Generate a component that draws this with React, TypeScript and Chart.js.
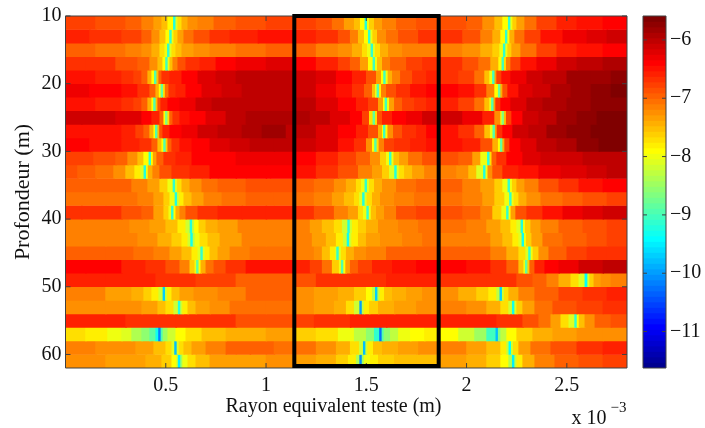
import React, { useEffect, useRef } from "react";
import { Chart, registerables } from "chart.js";

Chart.register(...registerables);

const FONT = '"Liberation Serif", "Times New Roman", serif';
const INK = "#111111";
const FRAME = "#404040";

// Depth (m) at the centre of each 2 m row
const depths = [11, 13, 15, 17, 19, 21, 23, 25, 27, 29, 31, 33, 35, 37, 39, 41, 43, 45, 47, 49, 51, 53, 55, 57, 59, 61];
const xTickValues = [0.5, 1, 1.5, 2, 2.5];
const yTickValues = [10, 20, 30, 40, 50, 60];
const barTickValues = [-6, -7, -8, -9, -10, -11];
const cLimits = [-11.625, -5.59];
const boxX = [1.5, 1.861, 1.861, 1.141, 1.141, 1.5];
const boxY = [10, 10, 61.7, 61.7, 10, 10];

// Flat pairs per depth row: radius where the step ends (x 10^-3 m), log value of the step
const d11 = [.15,-6.8,.3,-6.85,.38,-6.95,.44,-7.1,.48,-7.3,.51,-7.55,.538,-7.9,.55,-9.2,.56,-8.1,.58,-7.75,.61,-7.45,.66,-7.25,.74,-7.1,.85,-6.95,1,-6.85,1.14,-6.8,1.25,-6.75,1.33,-6.85,1.39,-7.05,1.44,-7.3,1.47,-7.5,1.493,-7.9,1.505,-9.2,1.515,-8,1.54,-7.6,1.58,-7.3,1.65,-7.1,1.75,-6.95,1.86,-6.85,2,-6.85,2.08,-6.95,2.14,-7.2,2.18,-7.5,2.208,-7.9,2.22,-9.1,2.23,-8,2.25,-7.65,2.29,-7.35,2.35,-7.05,2.45,-6.8,2.55,-6.6,2.68,-6.45,2.8,-6.35];
const d13 = [.12,-6.6,.28,-6.65,.38,-6.8,.43,-6.95,.47,-7.2,.5,-7.55,.519,-7.9,.531,-9.1,.54,-8,.56,-7.6,.59,-7.3,.64,-7.05,.72,-6.85,.82,-6.7,.96,-6.55,1.14,-6.45,1.25,-6.55,1.36,-6.7,1.42,-6.9,1.46,-7.15,1.49,-7.5,1.51,-7.9,1.522,-9.1,1.532,-8,1.555,-7.6,1.6,-7.25,1.66,-7.05,1.76,-6.85,1.86,-6.7,1.98,-6.72,2.07,-6.85,2.13,-7.1,2.17,-7.45,2.193,-7.9,2.205,-9.1,2.215,-7.9,2.24,-7.4,2.29,-7.05,2.37,-6.75,2.48,-6.45,2.6,-6.3,2.7,-6.2,2.8,-6.12];
const d15 = [.15,-7,.3,-7.05,.38,-7.15,.43,-7.25,.47,-7.45,.495,-7.7,.508,-8,.52,-9.1,.53,-8.1,.55,-7.75,.58,-7.5,.64,-7.3,.72,-7.2,.85,-7.1,1,-7.05,1.14,-7,1.25,-7,1.36,-7.1,1.43,-7.25,1.48,-7.45,1.505,-7.7,1.523,-8,1.535,-9.1,1.545,-8.1,1.57,-7.7,1.61,-7.45,1.68,-7.25,1.77,-7.15,1.86,-7.1,1.98,-7.1,2.07,-7.2,2.13,-7.4,2.165,-7.65,2.183,-8,2.195,-9.1,2.205,-8,2.225,-7.6,2.27,-7.3,2.35,-7.05,2.45,-6.8,2.55,-6.6,2.68,-6.48,2.8,-6.4];
const d17 = [.1,-6.65,.25,-6.7,.36,-6.85,.42,-7,.46,-7.2,.485,-7.5,.499,-7.9,.511,-9,.52,-8,.535,-7.5,.56,-7.1,.6,-6.85,.67,-6.7,.75,-6.55,.85,-6.4,1,-6.3,1.14,-6.25,1.25,-6.4,1.36,-6.55,1.42,-6.75,1.47,-7,1.51,-7.35,1.533,-7.9,1.545,-9,1.555,-7.95,1.58,-7.5,1.62,-7.15,1.7,-6.95,1.78,-6.8,1.86,-6.65,1.98,-6.7,2.06,-6.85,2.12,-7.05,2.16,-7.4,2.176,-7.9,2.188,-9,2.198,-7.7,2.22,-7.1,2.27,-6.75,2.35,-6.5,2.45,-6.3,2.55,-6.15,2.68,-6.02,2.8,-5.95];
const d19 = [.15,-6.5,.28,-6.55,.34,-6.65,.38,-6.8,.41,-7,.43,-7.4,.443,-7.9,.455,-8.9,.465,-7.5,.48,-6.95,.52,-6.7,.58,-6.55,.66,-6.4,.75,-6.25,.85,-6.12,1,-6.05,1.14,-6.05,1.25,-6.1,1.35,-6.25,1.43,-6.4,1.5,-6.6,1.55,-6.85,1.575,-7.3,1.586,-7.9,1.598,-9,1.608,-8,1.63,-7.45,1.67,-7.1,1.73,-6.85,1.8,-6.7,1.86,-6.6,1.96,-6.65,2.04,-6.8,2.09,-7.05,2.115,-7.5,2.129,-8,2.141,-9,2.15,-7.3,2.175,-6.75,2.22,-6.5,2.3,-6.3,2.38,-6.12,2.5,-5.98,2.62,-5.85,2.72,-5.78,2.8,-5.75];
const d21 = [.12,-6.3,.28,-6.35,.36,-6.45,.42,-6.65,.45,-6.95,.467,-7.4,.476,-7.9,.488,-8.8,.497,-7.7,.515,-7.05,.55,-6.7,.6,-6.55,.68,-6.42,.78,-6.25,.88,-6.1,1,-6.05,1.14,-6,1.25,-6.15,1.35,-6.3,1.43,-6.45,1.49,-6.65,1.53,-7,1.545,-7.5,1.553,-8,1.565,-8.9,1.575,-7.8,1.6,-7.15,1.65,-6.85,1.72,-6.65,1.8,-6.5,1.86,-6.35,1.96,-6.4,2.04,-6.5,2.1,-6.7,2.14,-7.1,2.158,-7.9,2.17,-8.8,2.18,-7.4,2.205,-6.85,2.26,-6.45,2.33,-6.25,2.42,-6.1,2.52,-5.95,2.62,-5.82,2.72,-5.72,2.8,-5.68];
const d23 = [.15,-6.45,.28,-6.55,.34,-6.65,.38,-6.8,.41,-7,.43,-7.4,.439,-7.9,.451,-8.9,.46,-7.5,.475,-6.9,.51,-6.6,.57,-6.42,.65,-6.3,.73,-6.15,.83,-6.02,.96,-5.98,1.14,-5.98,1.25,-6.05,1.36,-6.2,1.45,-6.35,1.51,-6.55,1.56,-6.8,1.585,-7.3,1.593,-7.9,1.605,-9,1.615,-8,1.64,-7.35,1.68,-7,1.74,-6.8,1.8,-6.65,1.86,-6.55,1.96,-6.6,2.04,-6.75,2.09,-7.05,2.115,-7.5,2.124,-8,2.136,-8.9,2.145,-7.3,2.17,-6.7,2.22,-6.4,2.3,-6.2,2.38,-6.05,2.5,-5.92,2.62,-5.82,2.72,-5.74,2.8,-5.72];
const d25 = [.08,-6.1,.25,-6.12,.38,-6.2,.43,-6.35,.47,-6.6,.49,-7,.498,-7.9,.51,-8.7,.519,-7.7,.535,-7,.57,-6.65,.62,-6.5,.7,-6.35,.8,-6.2,.9,-6.02,1,-5.92,1.14,-5.9,1.22,-5.95,1.32,-6.05,1.42,-6.2,1.48,-6.4,1.515,-6.8,1.533,-7.7,1.545,-8.8,1.555,-7.7,1.58,-6.9,1.63,-6.55,1.7,-6.4,1.78,-6.32,1.86,-6.15,1.98,-6.15,2.08,-6.28,2.14,-6.55,2.17,-7.2,2.176,-7.9,2.188,-8.7,2.198,-7.5,2.225,-6.75,2.28,-6.35,2.36,-6.12,2.45,-5.98,2.55,-5.85,2.65,-5.72,2.8,-5.62];
const d27 = [.15,-6.45,.28,-6.5,.35,-6.6,.39,-6.75,.42,-7,.44,-7.45,.448,-7.9,.46,-8.9,.469,-7.5,.485,-6.9,.52,-6.6,.58,-6.42,.66,-6.28,.76,-6.1,.88,-6,.98,-5.92,1.1,-5.85,1.14,-5.98,1.25,-6.02,1.36,-6.2,1.45,-6.35,1.51,-6.55,1.56,-6.85,1.58,-7.4,1.585,-7.9,1.597,-9,1.607,-7.9,1.635,-7.25,1.68,-6.9,1.75,-6.7,1.8,-6.55,1.86,-6.42,1.96,-6.5,2.04,-6.65,2.09,-6.95,2.118,-7.5,2.131,-8,2.143,-8.9,2.152,-7.3,2.18,-6.65,2.23,-6.35,2.31,-6.12,2.4,-5.98,2.5,-5.85,2.62,-5.72,2.8,-5.65];
const d29 = [.12,-6.4,.28,-6.45,.37,-6.55,.43,-6.7,.46,-7,.48,-7.5,.489,-7.9,.501,-8.9,.51,-7.6,.53,-7,.57,-6.68,.63,-6.52,.72,-6.4,.82,-6.22,.92,-6.08,1.04,-6,1.14,-5.98,1.25,-6.1,1.36,-6.25,1.44,-6.45,1.5,-6.7,1.53,-7.2,1.541,-7.9,1.553,-8.9,1.563,-7.7,1.59,-7.1,1.64,-6.8,1.72,-6.65,1.8,-6.55,1.86,-6.45,1.98,-6.5,2.07,-6.62,2.13,-6.9,2.158,-7.4,2.168,-7.9,2.18,-8.8,2.19,-7.4,2.215,-6.8,2.27,-6.42,2.35,-6.2,2.45,-6.02,2.55,-5.88,2.66,-5.72,2.8,-5.68];
const d31 = [.14,-6.78,.25,-6.85,.31,-7,.36,-7.2,.39,-7.5,.416,-7.9,.428,-9.1,.437,-7.9,.455,-7.3,.49,-6.95,.55,-6.72,.63,-6.55,.72,-6.42,.85,-6.35,1,-6.33,1.14,-6.33,1.25,-6.4,1.36,-6.55,1.45,-6.75,1.52,-6.95,1.57,-7.25,1.6,-7.6,1.615,-8,1.627,-9.1,1.637,-8,1.665,-7.55,1.71,-7.3,1.78,-7.05,1.86,-6.85,1.96,-6.85,2.03,-7,2.07,-7.3,2.104,-7.95,2.116,-9.2,2.126,-7.7,2.15,-7,2.2,-6.65,2.28,-6.4,2.37,-6.22,2.47,-6.12,2.58,-6.08,2.7,-6.02,2.8,-5.98];
const d33 = [.06,-6.9,.15,-7,.24,-7.05,.3,-7.25,.345,-7.55,.375,-7.85,.391,-8.1,.403,-9.2,.412,-8,.435,-7.4,.47,-7.1,.53,-6.9,.62,-6.72,.72,-6.55,.85,-6.42,1,-6.38,1.14,-6.38,1.25,-6.5,1.36,-6.65,1.46,-6.85,1.53,-7.1,1.58,-7.35,1.615,-7.65,1.641,-8.05,1.653,-9.2,1.663,-8.1,1.69,-7.75,1.73,-7.5,1.79,-7.3,1.86,-7.15,1.95,-7.1,2.01,-7.25,2.05,-7.55,2.084,-8.1,2.096,-9.2,2.106,-7.95,2.13,-7.25,2.18,-6.85,2.26,-6.62,2.36,-6.45,2.47,-6.3,2.6,-6.2,2.7,-6.1,2.8,-6.05];
const d35 = [.15,-6.95,.33,-7,.41,-7.1,.47,-7.3,.51,-7.6,.536,-7.95,.548,-9.1,.558,-8.1,.58,-7.7,.62,-7.4,.68,-7.2,.76,-7.05,.9,-6.95,1.02,-6.9,1.14,-6.85,1.24,-6.92,1.34,-7.05,1.4,-7.2,1.45,-7.45,1.475,-7.7,1.493,-8,1.505,-9.1,1.515,-8.1,1.54,-7.7,1.58,-7.4,1.65,-7.2,1.75,-7.05,1.86,-6.98,1.98,-7,2.07,-7.1,2.14,-7.35,2.18,-7.65,2.206,-8,2.218,-9.1,2.228,-8,2.25,-7.65,2.29,-7.35,2.36,-7.1,2.46,-6.85,2.56,-6.65,2.68,-6.5,2.8,-6.42];
const d37 = [.2,-7.02,.36,-7.05,.44,-7.15,.49,-7.35,.52,-7.6,.546,-8,.558,-9.2,.568,-8.2,.59,-7.8,.63,-7.5,.69,-7.3,.78,-7.15,.9,-7.02,1.04,-6.98,1.14,-6.95,1.24,-7.02,1.33,-7.12,1.39,-7.3,1.44,-7.5,1.465,-7.75,1.481,-8.1,1.493,-9.2,1.503,-8.1,1.53,-7.7,1.57,-7.45,1.64,-7.25,1.74,-7.12,1.86,-7.02,1.98,-7.05,2.08,-7.15,2.14,-7.35,2.19,-7.65,2.214,-8,2.226,-9.1,2.236,-8,2.26,-7.7,2.3,-7.42,2.37,-7.2,2.48,-7.05,2.58,-6.92,2.7,-6.82,2.8,-6.75];
const d39 = [.08,-6.65,.28,-6.72,.38,-6.82,.44,-7,.49,-7.3,.515,-7.65,.528,-8,.54,-9.1,.55,-7.9,.57,-7.45,.6,-7.1,.66,-6.85,.76,-6.72,.88,-6.6,1,-6.58,1.14,-6.6,1.24,-6.72,1.34,-6.88,1.41,-7.1,1.46,-7.35,1.485,-7.7,1.502,-8,1.514,-9.1,1.524,-8,1.55,-7.55,1.59,-7.3,1.65,-7.12,1.75,-6.9,1.86,-6.78,1.98,-6.82,2.07,-6.92,2.13,-7.15,2.175,-7.6,2.199,-8,2.211,-9.1,2.221,-7.9,2.245,-7.35,2.3,-6.9,2.38,-6.65,2.48,-6.45,2.58,-6.32,2.68,-6.2,2.8,-6.08];
const d41 = [.15,-7.1,.32,-7.12,.42,-7.2,.5,-7.35,.56,-7.55,.6,-7.8,.621,-8.2,.633,-9.2,.643,-8.3,.665,-7.9,.7,-7.65,.76,-7.45,.86,-7.3,1,-7.15,1.14,-7.1,1.22,-7.15,1.28,-7.3,1.34,-7.5,1.38,-7.75,1.407,-8.2,1.419,-9.2,1.43,-8.2,1.46,-7.85,1.5,-7.6,1.56,-7.4,1.66,-7.22,1.76,-7.1,1.86,-7.05,2,-7.08,2.1,-7.15,2.17,-7.35,2.22,-7.55,2.25,-7.8,2.271,-8.1,2.283,-9.2,2.293,-8,2.32,-7.65,2.37,-7.35,2.46,-7.1,2.58,-6.95,2.7,-6.88,2.8,-6.8];
const d43 = [.2,-7.12,.36,-7.15,.46,-7.25,.53,-7.4,.58,-7.6,.61,-7.85,.624,-8.2,.636,-9.3,.646,-8.3,.67,-7.95,.71,-7.7,.77,-7.5,.88,-7.32,1,-7.18,1.14,-7.12,1.23,-7.15,1.3,-7.32,1.35,-7.55,1.385,-7.8,1.404,-8.2,1.416,-9.3,1.427,-8.2,1.46,-7.8,1.5,-7.55,1.57,-7.35,1.68,-7.22,1.78,-7.12,1.86,-7.08,2,-7.1,2.12,-7.18,2.18,-7.35,2.23,-7.55,2.26,-7.8,2.276,-8.1,2.288,-9.3,2.298,-8,2.325,-7.65,2.38,-7.32,2.48,-7.08,2.6,-6.92,2.7,-6.82,2.8,-6.75];
const d45 = [.2,-6.95,.34,-6.98,.44,-7.05,.52,-7.15,.58,-7.3,.63,-7.55,.66,-7.8,.674,-8.1,.686,-9.1,.696,-8.1,.72,-7.8,.76,-7.5,.82,-7.3,.92,-7.15,1.14,-7.08,1.24,-7.1,1.28,-7.25,1.32,-7.5,1.345,-7.85,1.352,-8.1,1.364,-9.1,1.375,-8.05,1.4,-7.7,1.44,-7.45,1.5,-7.25,1.6,-7.1,1.72,-6.98,1.86,-6.95,2,-6.95,2.12,-7,2.2,-7.15,2.26,-7.4,2.295,-7.75,2.309,-8.1,2.321,-9.1,2.331,-8,2.36,-7.6,2.41,-7.25,2.5,-6.98,2.6,-6.8,2.7,-6.72,2.8,-6.65];
const d47 = [.1,-6.42,.28,-6.42,.4,-6.55,.5,-6.7,.57,-6.85,.62,-7.15,.645,-7.6,.653,-8,.665,-8.8,.675,-7.9,.7,-7.4,.74,-7.05,.8,-6.85,.9,-6.65,1.14,-6.52,1.22,-6.6,1.28,-6.78,1.33,-7.05,1.365,-7.6,1.375,-8,1.387,-8.9,1.397,-7.9,1.42,-7.3,1.46,-7,1.53,-6.8,1.63,-6.62,1.75,-6.5,1.86,-6.42,2,-6.42,2.12,-6.5,2.2,-6.65,2.26,-6.95,2.285,-7.5,2.293,-8,2.305,-8.8,2.315,-7.6,2.34,-7,2.39,-6.62,2.46,-6.42,2.56,-6.28,2.68,-6.15,2.8,-6.02];
const d49 = [.2,-6.55,.45,-6.62,.65,-6.68,.85,-6.8,1.14,-6.95,1.25,-6.9,1.42,-6.72,1.6,-6.68,1.86,-6.62,2.1,-6.65,2.25,-6.72,2.33,-6.85,2.4,-6.98,2.46,-7.15,2.52,-7.4,2.56,-7.7,2.59,-8.1,2.604,-9.4,2.614,-8.1,2.635,-7.65,2.67,-7.35,2.72,-7.2,2.8,-7.1];
const d51 = [.2,-7.12,.33,-7.3,.39,-7.45,.43,-7.6,.465,-7.8,.486,-8.2,.498,-9.7,.508,-8.2,.53,-7.8,.57,-7.55,.64,-7.35,.76,-7.2,.9,-7.1,1.14,-7,1.24,-7.2,1.36,-7.3,1.44,-7.45,1.5,-7.65,1.53,-7.9,1.545,-8.3,1.557,-9.7,1.567,-8.3,1.59,-7.8,1.63,-7.55,1.7,-7.4,1.78,-7.32,1.86,-7.25,1.96,-7.28,2.05,-7.4,2.11,-7.6,2.15,-7.85,2.166,-8.3,2.178,-9.7,2.188,-8.2,2.21,-7.7,2.26,-7.4,2.34,-7.15,2.46,-6.95,2.58,-6.8,2.7,-6.7,2.8,-6.62];
const d53 = [.2,-7.2,.38,-7.25,.46,-7.35,.5,-7.5,.54,-7.7,.562,-8.2,.574,-9.2,.584,-8.2,.61,-7.8,.65,-7.55,.72,-7.35,.82,-7.2,1,-7.08,1.14,-7.05,1.24,-7.2,1.34,-7.3,1.4,-7.45,1.44,-7.7,1.467,-8.2,1.479,-10,1.489,-8.3,1.515,-7.85,1.56,-7.6,1.64,-7.45,1.75,-7.35,1.86,-7.25,2,-7.12,2.1,-7.22,2.17,-7.45,2.21,-7.75,2.228,-8.2,2.24,-9.3,2.25,-8.1,2.28,-7.65,2.34,-7.32,2.43,-7.05,2.55,-6.88,2.68,-6.75,2.8,-6.68];
const d55 = [.3,-6.6,.55,-6.65,.85,-6.72,1.14,-6.88,1.24,-6.78,1.42,-6.68,1.6,-6.6,1.86,-6.55,2.15,-6.58,2.28,-6.68,2.36,-6.82,2.42,-7.05,2.47,-7.35,2.51,-7.7,2.539,-8.1,2.551,-9.1,2.561,-7.9,2.59,-7.5,2.64,-7.2,2.72,-7,2.8,-6.9];
const d57 = [.1,-7.72,.21,-7.78,.28,-7.95,.33,-8.1,.38,-8.35,.42,-8.6,.45,-8.85,.464,-9.3,.476,-10.2,.486,-8.9,.51,-8.5,.55,-8.15,.6,-7.9,.68,-7.75,.8,-7.55,1,-7.4,1.14,-7.35,1.25,-7.6,1.36,-7.75,1.44,-7.95,1.5,-8.25,1.54,-8.6,1.566,-9.1,1.578,-10.3,1.588,-8.9,1.62,-8.55,1.66,-8.25,1.72,-8,1.79,-7.88,1.86,-7.82,1.96,-7.9,2.04,-8.15,2.1,-8.45,2.146,-9,2.158,-9.8,2.17,-8.7,2.2,-8.25,2.25,-7.9,2.33,-7.65,2.43,-7.45,2.55,-7.3,2.68,-7.22,2.8,-7.2];
const d59 = [.15,-7.18,.35,-7.22,.44,-7.32,.5,-7.5,.53,-7.7,.544,-8.1,.556,-9.8,.566,-8.1,.59,-7.7,.63,-7.5,.7,-7.3,.8,-7.1,.92,-6.98,1.04,-6.95,1.14,-7.02,1.25,-7.08,1.35,-7.22,1.42,-7.4,1.465,-7.7,1.485,-8.2,1.497,-9.8,1.507,-8.2,1.535,-7.8,1.58,-7.55,1.66,-7.4,1.76,-7.3,1.86,-7.22,2,-7.18,2.1,-7.3,2.17,-7.5,2.2,-7.8,2.211,-8.3,2.223,-9.4,2.233,-8.2,2.26,-7.7,2.32,-7.35,2.42,-7.05,2.55,-6.88,2.68,-6.72,2.8,-6.62];
const d61 = [.2,-7.25,.4,-7.3,.48,-7.4,.53,-7.6,.555,-7.9,.562,-8.3,.574,-9.5,.584,-8.5,.61,-8,.65,-7.7,.72,-7.5,.85,-7.38,1,-7.3,1.14,-7.25,1.25,-7.32,1.35,-7.45,1.41,-7.6,1.45,-7.85,1.467,-8.4,1.479,-10.1,1.489,-8.5,1.52,-8,1.56,-7.8,1.64,-7.65,1.75,-7.52,1.86,-7.48,2,-7.38,2.1,-7.45,2.17,-7.65,2.21,-7.9,2.228,-8.4,2.24,-9.5,2.25,-8.3,2.28,-7.8,2.34,-7.45,2.44,-7.15,2.56,-6.95,2.68,-6.85,2.8,-6.78];

const rows = [d11, d13, d15, d17, d19, d21, d23, d25, d27, d29, d31, d33, d35, d37, d39, d41, d43, d45, d47, d49, d51, d53, d55, d57, d59, d61];

// The 64 levels of the "jet" colour map, lowest value first
const JET = [
  "#000090","#0000a0","#0000b0","#0000c0","#0000d0","#0000e0","#0000f0","#0000ff",
  "#0010ff","#0020ff","#0030ff","#0040ff","#0050ff","#0060ff","#0070ff","#0080ff",
  "#008fff","#009fff","#00afff","#00bfff","#00cfff","#00dfff","#00efff","#00ffff",
  "#10ffef","#20ffdf","#30ffcf","#40ffbf","#50ffaf","#60ff9f","#70ff8f","#80ff80",
  "#8fff70","#9fff60","#afff50","#bfff40","#cfff30","#dfff20","#efff10","#ffff00",
  "#ffef00","#ffdf00","#ffcf00","#ffbf00","#ffaf00","#ff9f00","#ff8f00","#ff8000",
  "#ff7000","#ff6000","#ff5000","#ff4000","#ff3000","#ff2000","#ff1000","#ff0000",
  "#ef0000","#df0000","#cf0000","#bf0000","#af0000","#9f0000","#8f0000","#800000",
];

const colorOf = (v: number) => {
  const t = (v - cLimits[0]) / (cLimits[1] - cLimits[0]);
  return JET[Math.max(0, Math.min(JET.length - 1, Math.floor(t * JET.length)))];
};

const rowDataset = (pairs: number[], depth: number) => {
  const data: any[] = [];
  const colors: string[] = [];
  let start = 0;
  for (let i = 0; i < pairs.length; i += 2) {
    data.push({ x: [start, pairs[i] + 0.004], y: String(depth) });
    colors.push(colorOf(pairs[i + 1]));
    start = pairs[i];
  }
  return {
    type: "bar",
    indexAxis: "y",
    xAxisID: "x",
    yAxisID: "rows",
    data,
    backgroundColor: colors,
    borderWidth: 0,
    grouped: false,
    categoryPercentage: 1,
    barPercentage: 1,
  };
};

const frame = {
  id: "frame",
  afterDatasetDraw(chart: any, args: any) {
    const last = chart.data.datasets.length > 1 ? 1 : 0;
    if (args.index !== last) return;
    const { ctx, chartArea: a, scales } = chart;
    const len = chart.data.datasets.length > 1 ? 5 : 4;
    ctx.save();
    ctx.strokeStyle = FRAME;
    ctx.lineWidth = 1;
    ctx.beginPath();
    ctx.rect(a.left, a.top, a.right - a.left, a.bottom - a.top);
    if (chart.data.datasets.length > 1) {
      for (const t of scales.x.ticks) {
        const px = scales.x.getPixelForValue(t.value);
        ctx.moveTo(px, a.bottom);
        ctx.lineTo(px, a.bottom - len);
        ctx.moveTo(px, a.top);
        ctx.lineTo(px, a.top + len);
      }
    }
    for (const t of scales.y.ticks) {
      const py = scales.y.getPixelForValue(t.value);
      ctx.moveTo(a.left, py);
      ctx.lineTo(a.left + len, py);
      ctx.moveTo(a.right, py);
      ctx.lineTo(a.right - len, py);
    }
    ctx.stroke();
    ctx.restore();
  },
};

const captions = {
  id: "captions",
  afterDraw(chart: any) {
    const { ctx } = chart;
    ctx.save();
    ctx.fillStyle = INK;
    ctx.textBaseline = "alphabetic";
    ctx.textAlign = "center";
    ctx.font = `20px ${FONT}`;
    ctx.fillText("Rayon equivalent teste (m)", 333.5, 411.5);
    ctx.textAlign = "left";
    ctx.fillText("x 10", 571.5, 424);
    ctx.font = `15px ${FONT}`;
    ctx.fillText("\u22123", 610.5, 412);
    ctx.restore();
  },
};

const setTicks = (values: number[]) => (scale: any) => {
  scale.ticks = values.map((value) => ({ value }));
};

export default function App() {
  const mainRef = useRef<HTMLCanvasElement>(null);
  const barRef = useRef<HTMLCanvasElement>(null);

  useEffect(() => {
    const tickFont = { family: FONT, size: 20 };
    const main = new Chart(mainRef.current as HTMLCanvasElement, {
      type: "bar",
      data: {
        labels: depths.map(String),
        datasets: [
          {
            type: "scatter",
            xAxisID: "x",
            yAxisID: "y",
            showLine: true,
            data: boxX.map((x, i) => ({ x, y: boxY[i] })),
            borderColor: "#000000",
            borderWidth: 4,
            borderJoinStyle: "miter",
            borderCapStyle: "butt",
            pointRadius: 0,
            clip: false,
          },
          ...rows.map((r, i) => rowDataset(r, depths[i])),
        ] as any,
      },
      options: {
        responsive: false,
        animation: false,
        events: [],
        layout: { padding: { top: 13.5, right: 78, left: 0, bottom: 0 } },
        plugins: { legend: { display: false }, tooltip: { enabled: false } },
        scales: {
          x: {
            type: "linear",
            position: "bottom",
            offset: false,
            min: 0,
            max: 2.8,
            grid: { display: false, drawTicks: false },
            border: { display: false },
            afterBuildTicks: setTicks(xTickValues),
            afterFit: (s: any) => {
              s.height = 60;
            },
            ticks: {
              autoSkip: false,
              maxRotation: 0,
              padding: 6,
              color: INK,
              font: tickFont,
              callback: (v: any) => String(v),
            },
          },
          y: {
            type: "linear",
            position: "left",
            reverse: true,
            min: 10,
            max: 62,
            grid: { display: false, drawTicks: false },
            border: { display: false },
            afterBuildTicks: setTicks(yTickValues),
            afterFit: (s: any) => {
              s.width = 65.5;
            },
            title: {
              display: true,
              text: "Profondeur (m)",
              color: INK,
              font: { family: FONT, size: 22 },
              padding: { top: 10, bottom: 0 },
            },
            ticks: { autoSkip: false, padding: 4, color: INK, font: tickFont },
          },
          rows: {
            type: "category",
            axis: "y",
            display: false,
            offset: true,
            labels: depths.map(String),
            grid: { display: false },
          },
        },
      } as any,
      plugins: [frame, captions],
    });

    const bar = new Chart(barRef.current as HTMLCanvasElement, {
      type: "bar",
      data: {
        labels: ["c"],
        datasets: [
          {
            data: JET.map((_, i) => {
              const step = (cLimits[1] - cLimits[0]) / JET.length;
              return { x: "c", y: [cLimits[0] + i * step, cLimits[0] + (i + 1) * step + 0.01] };
            }),
            backgroundColor: JET,
            borderWidth: 0,
            grouped: false,
            categoryPercentage: 1,
            barPercentage: 1,
          },
        ] as any,
      },
      options: {
        responsive: false,
        animation: false,
        events: [],
        layout: { padding: { top: 13.5, left: 643, right: 0, bottom: 60 } },
        plugins: { legend: { display: false }, tooltip: { enabled: false } },
        scales: {
          x: { type: "category", display: false, offset: true, grid: { display: false } },
          y: {
            type: "linear",
            position: "right",
            min: cLimits[0],
            max: cLimits[1],
            grid: { display: false, drawTicks: false },
            border: { display: false },
            afterBuildTicks: setTicks(barTickValues),
            afterFit: (s: any) => {
              s.width = 39;
            },
            ticks: {
              autoSkip: false,
              padding: 4,
              color: INK,
              font: tickFont,
              callback: (v: any) => `\u2212${Math.abs(v)}`,
            },
          },
        },
      } as any,
      plugins: [frame],
    });

    return () => {
      main.destroy();
      bar.destroy();
    };
  }, []);

  const layer: React.CSSProperties = { position: "absolute", left: 0, top: 0, display: "block" };
  return (
    <div style={{ position: "absolute", left: 0, top: 0, width: 705, height: 428, background: "#fff" }}>
      <canvas ref={mainRef} width={705} height={428} style={layer} />
      <canvas ref={barRef} width={705} height={428} style={layer} />
    </div>
  );
}
